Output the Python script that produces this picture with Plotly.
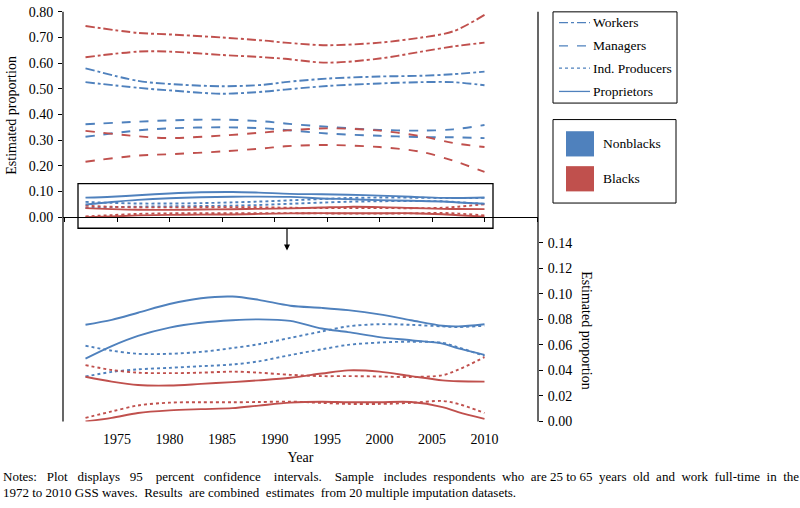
import plotly.graph_objects as go

# ---------------- data ----------------
YEARS_TOP = [1972, 1977, 1980, 1985, 1989, 1991, 1995, 2000, 2004, 2007, 2010]
YEARS_BOT = [1972, 1974.5, 1977, 1980, 1983, 1986, 1988.5, 1991.5, 1994.5, 1997, 2000, 2003, 2006, 2007.5, 2010]

# Workers (dash-dot), 95% CI bounds
WORK_BLK_HI = [0.745, 0.718, 0.712, 0.700, 0.688, 0.680, 0.670, 0.680, 0.700, 0.724, 0.788]
WORK_BLK_LO = [0.623, 0.645, 0.645, 0.632, 0.623, 0.617, 0.602, 0.618, 0.645, 0.665, 0.680]
WORK_NBL_HI = [0.580, 0.531, 0.519, 0.510, 0.516, 0.526, 0.540, 0.548, 0.551, 0.557, 0.567]
WORK_NBL_LO = [0.526, 0.504, 0.494, 0.481, 0.489, 0.497, 0.511, 0.521, 0.526, 0.526, 0.514]
# Managers (dash)
MAN_NBL_HI = [0.362, 0.372, 0.377, 0.380, 0.373, 0.365, 0.352, 0.340, 0.337, 0.342, 0.359]
MAN_NBL_LO = [0.313, 0.338, 0.346, 0.350, 0.346, 0.340, 0.326, 0.317, 0.312, 0.311, 0.308]
MAN_BLK_HI = [0.336, 0.315, 0.308, 0.318, 0.330, 0.337, 0.346, 0.337, 0.315, 0.289, 0.273]
MAN_BLK_LO = [0.216, 0.240, 0.245, 0.256, 0.268, 0.276, 0.281, 0.273, 0.254, 0.220, 0.176]
# Proprietors (solid)
PROP_NBL_HI = [0.0758, 0.0796, 0.0852, 0.0920, 0.0966, 0.0979, 0.0953, 0.0907, 0.0890, 0.0872, 0.0839, 0.0793, 0.0750, 0.0745, 0.0762]
PROP_NBL_LO = [0.0492, 0.0590, 0.0670, 0.0735, 0.0773, 0.0793, 0.0800, 0.0788, 0.0728, 0.0700, 0.0661, 0.0636, 0.0610, 0.0572, 0.0522]
PROP_BLK_HI = [0.0350, 0.0312, 0.0285, 0.0281, 0.0294, 0.0308, 0.0322, 0.0342, 0.0375, 0.0400, 0.0390, 0.0355, 0.0322, 0.0315, 0.0312]
PROP_BLK_LO = [0.0000, 0.0028, 0.0066, 0.0086, 0.0096, 0.0104, 0.0124, 0.0147, 0.0154, 0.0150, 0.0150, 0.0152, 0.0112, 0.0072, 0.0020]
# Independent producers (dot)
IND_NBL_HI = [0.0593, 0.0555, 0.0530, 0.0530, 0.0545, 0.0575, 0.0605, 0.0655, 0.0705, 0.0745, 0.0762, 0.0757, 0.0745, 0.0740, 0.0750]
IND_NBL_LO = [0.0352, 0.0388, 0.0408, 0.0420, 0.0433, 0.0446, 0.0471, 0.0520, 0.0565, 0.0600, 0.0618, 0.0625, 0.0616, 0.0580, 0.0514]
IND_BLK_HI = [0.0441, 0.0403, 0.0382, 0.0378, 0.0382, 0.0390, 0.0382, 0.0365, 0.0355, 0.0355, 0.0352, 0.0348, 0.0362, 0.0405, 0.0504]
IND_BLK_LO = [0.0028, 0.0078, 0.0125, 0.0147, 0.0150, 0.0150, 0.0152, 0.0155, 0.0145, 0.0137, 0.0137, 0.0145, 0.0160, 0.0137, 0.0066]

TOP_TICKS = [0.0, 0.1, 0.2, 0.3, 0.4, 0.5, 0.6, 0.7, 0.8]
BOT_TICKS = [0.0, 0.02, 0.04, 0.06, 0.08, 0.10, 0.12, 0.14]
X_TICKS_TOP = [1970, 1975, 1980, 1985, 1990, 1995, 2000, 2005, 2010, 2015]
X_TICKS_BOT = [1975, 1980, 1985, 1990, 1995, 2000, 2005, 2010]

BLUE = "#4F81BD"
RED = "#C0504D"
FONT = "Liberation Serif"
W, H = 800, 508

def px(x):
    return x / W

def py(y):
    return 1 - y / H

fig = go.Figure()

def add(x, y, color, dash, xa, ya, width=1.9):
    fig.add_trace(go.Scatter(x=x, y=y, mode="lines", xaxis=xa, yaxis=ya,
                             line=dict(color=color, dash=dash, width=width, shape="spline", smoothing=0.9),
                             showlegend=False, hoverinfo="skip"))

# top panel: all occupations
for s, c in [(WORK_BLK_HI, RED), (WORK_BLK_LO, RED), (WORK_NBL_HI, BLUE), (WORK_NBL_LO, BLUE)]:
    add(YEARS_TOP, s, c, "dashdot", "x", "y")
for s, c in [(MAN_NBL_HI, BLUE), (MAN_NBL_LO, BLUE), (MAN_BLK_HI, RED), (MAN_BLK_LO, RED)]:
    add(YEARS_TOP, s, c, "dash", "x", "y")
small = [(IND_NBL_HI, BLUE, "dot"), (IND_NBL_LO, BLUE, "dot"), (IND_BLK_HI, RED, "dot"), (IND_BLK_LO, RED, "dot"),
         (PROP_NBL_HI, BLUE, "solid"), (PROP_NBL_LO, BLUE, "solid"), (PROP_BLK_HI, RED, "solid"), (PROP_BLK_LO, RED, "solid")]
for s, c, d in small:
    add(YEARS_BOT, s, c, d, "x", "y")
# bottom panel: zoom on small categories
for s, c, d in small:
    add(YEARS_BOT, s, c, d, "x2", "y2")

X_L, X_R = 63, 538
TOP_T, TOP_B = 5, 216.5
BOT_T, BOT_B = 243, 427
XR = [1969.857, 2015.095]

tickfont = dict(family=FONT, size=14, color="black")
common_x = dict(domain=[px(X_L), px(X_R)], range=XR, showgrid=False, zeroline=False)

fig.update_layout(
    width=W, height=H, margin=dict(l=0, r=0, t=0, b=0),
    paper_bgcolor="white", plot_bgcolor="rgba(0,0,0,0)",
    xaxis=dict(**common_x, anchor="y", showline=True, linecolor="black", linewidth=1.2,
               ticks="outside", ticklen=4, tickcolor="black", tickvals=X_TICKS_TOP, showticklabels=False),
    yaxis=dict(domain=[py(TOP_B), py(TOP_T)], range=[0, 0.8], anchor="x", showgrid=False, zeroline=False,
               ticks="outside", ticklen=4, tickcolor="black", tickvals=TOP_TICKS, tickformat=".2f",
               tickfont=tickfont, ticklabelstandoff=2),
    yaxis4=dict(overlaying="y", side="right", anchor="x", range=[0, 0.8], showgrid=False, zeroline=False,
                ticks="outside", ticklen=4, tickcolor="black", tickvals=TOP_TICKS, showticklabels=False),
    xaxis2=dict(**common_x, anchor="y2", showline=False, ticks="", tickvals=X_TICKS_BOT,
                tickfont=tickfont, ticklabelstandoff=8,
                title=dict(text="Year", font=tickfont, standoff=5)),
    yaxis2=dict(domain=[py(BOT_B), py(BOT_T)], range=[0, 0.14], side="right", anchor="x2",
                showgrid=False, zeroline=False, ticks="outside", ticklen=4, tickcolor="black",
                tickvals=BOT_TICKS, tickformat=".2f", tickfont=tickfont, ticklabelstandoff=2),
    yaxis3=dict(overlaying="y2", side="left", anchor="x2", range=[0, 0.14], showgrid=False, zeroline=False,
                ticks="outside", ticklen=4, tickcolor="black", tickvals=BOT_TICKS, showticklabels=False),
)

shapes = []
# vertical axis lines spanning both panels
for xx in (X_L, X_R):
    shapes.append(dict(type="line", xref="paper", yref="paper", x0=px(xx), x1=px(xx),
                       y0=py(BOT_B), y1=py(TOP_T), line=dict(color="black", width=1.2)))
# zoom box
shapes.append(dict(type="rect", xref="paper", yref="paper", x0=px(78), x1=px(493), y0=py(228), y1=py(182),
                   line=dict(color="black", width=1.3)))
# legend boxes
shapes.append(dict(type="rect", xref="paper", yref="paper", x0=px(553), x1=px(677), y0=py(99), y1=py(5),
                   line=dict(color="black", width=1)))
shapes.append(dict(type="rect", xref="paper", yref="paper", x0=px(553), x1=px(676), y0=py(202), y1=py(116),
                   line=dict(color="black", width=1)))
LEG_ITEMS = [("Workers", "dashdot", 16), ("Managers", "dash", 40), ("Ind. Producers", "dot", 63), ("Proprietors", "solid", 87)]
ann = []
for name, dash, yy in LEG_ITEMS:
    shapes.append(dict(type="line", xref="paper", yref="paper", x0=px(559), x1=px(590), y0=py(yy), y1=py(yy),
                       line=dict(color=BLUE, width=1.3, dash=dash)))
    ann.append(dict(text=name, x=px(591), y=py(yy), xref="paper", yref="paper", xanchor="left", yanchor="middle",
                    showarrow=False, font=dict(family=FONT, size=13.5, color="black")))
for name, col, y0, y1 in [("Nonblacks", BLUE, 128, 154), ("Blacks", RED, 164, 190)]:
    shapes.append(dict(type="rect", xref="paper", yref="paper", x0=px(566), x1=px(594), y0=py(y1), y1=py(y0),
                       line=dict(width=0), fillcolor=col))
    ann.append(dict(text=name, x=px(601), y=py((y0 + y1) / 2), xref="paper", yref="paper", xanchor="left",
                    yanchor="middle", showarrow=False, font=dict(family=FONT, size=13.5, color="black")))

# arrow
ann.append(dict(x=px(287), y=py(251), xref="paper", yref="paper", ax=0, ay=-23, text="", showarrow=True,
                arrowhead=2, arrowsize=1, arrowwidth=1.2, arrowcolor="black"))
# axis titles
ann.append(dict(text="Estimated proportion", x=px(12), y=py(112), xref="paper", yref="paper", textangle=-90,
                xanchor="center", yanchor="middle",
                showarrow=False, font=dict(family=FONT, size=14, color="black")))
ann.append(dict(text="Estimated proportion", x=px(587), y=py(333), xref="paper", yref="paper", textangle=90,
                xanchor="center", yanchor="middle",
                showarrow=False, font=dict(family=FONT, size=14, color="black")))
# notes (line 1 is justified in the original -> widen word gaps)
NB = "\u00a0"
WORDS1 = ["Notes:", "Plot", "displays", "95", "percent", "confidence", "intervals.", "Sample", "includes",
          "respondents", "who", "are", "25", "to", "65", "years", "old", "and", "work", "full-time", "in", "the"]
GAPS1 = [3, 3, 3, 4, 3, 4, 4, 3, 2, 2, 2, 1, 1, 1, 2, 2, 2, 2, 2, 2, 2]
NOTE1 = WORDS1[0] + "".join(" " + NB * (g - 1) + w for g, w in zip(GAPS1, WORDS1[1:]))
NOTE2 = "1972 to 2010 GSS waves." + NB + " Results" + NB + " are combined" + NB + " estimates" + NB + " from 20 multiple imputation datasets."
ann.append(dict(text=NOTE1, x=px(1), y=py(484), xref="paper", yref="paper", xanchor="left", yanchor="middle",
                showarrow=False, font=dict(family=FONT, size=13, color="black")))
ann.append(dict(text=NOTE2, x=px(1), y=py(500), xref="paper", yref="paper", xanchor="left", yanchor="middle",
                showarrow=False, font=dict(family=FONT, size=13, color="black")))

fig.update_layout(shapes=shapes, annotations=ann)
fig.write_html("out.html", config={"displayModeBar": False},
               post_script="document.body.style.margin='0';")
